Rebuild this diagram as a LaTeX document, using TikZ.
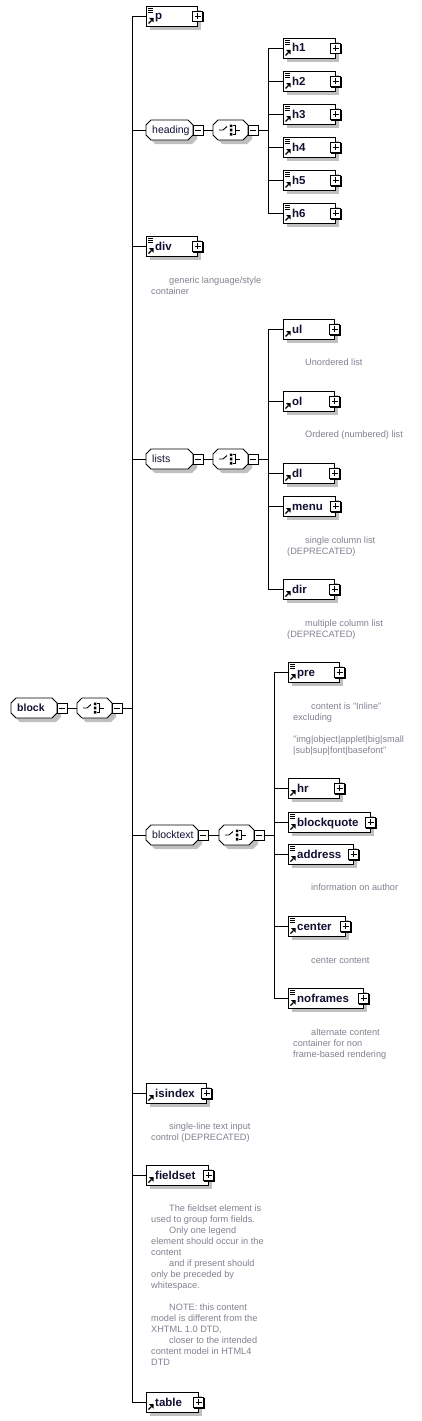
\documentclass[tikz,border=0pt]{standalone}
\usepackage{fontspec}
\setmainfont{Liberation Sans}
\definecolor{shadowc}{RGB}{192,192,192}
\definecolor{desccol}{RGB}{130,130,145}
\definecolor{labcol}{RGB}{16,16,48}
\tikzset{
  conn/.style={draw=black, line width=0.9pt},
  ebox/.style={draw=black, fill=white, line width=0.9pt, rectangle, inner sep=0pt, minimum height=20pt, anchor=west},
  elab/.style={font=\fontsize{11.5}{13}\selectfont\bfseries, text=labcol, inner sep=0pt, anchor=base west},
  glab/.style={font=\fontsize{10.5}{12}\selectfont, text=labcol, inner sep=0pt, anchor=base west},
  desc/.style={font=\fontsize{9.2}{11}\selectfont, text=desccol, inner sep=0pt, anchor=north west, align=left},
  pmbox/.style={draw=black, fill=white, line width=0.8pt, rectangle, inner sep=0pt, minimum width=10pt, minimum height=10pt},
}
\newcommand\xelem[6]{%
  \fill[shadowc] (#2+4,#3-6) rectangle (#2+#4+4,#3+14);
  \node[ebox, minimum width=#4pt] (#1) at (#2,#3) {};
  \ifnum#6=1
    \draw[line width=0.8pt] (#2+2,#3-8) -- (#2+7,#3-8) (#2+2,#3-6) -- (#2+7,#3-6) (#2+2,#3-4) -- (#2+7,#3-4);
  \fi
  \draw[line width=1.1pt] (#2+2.5,#3+7.5) -- (#2+5.5,#3+4.5);
  \fill (#2+7.5,#3+2) -- (#2+7.5,#3+6.5) -- (#2+3,#3+2) -- cycle;
  \node[elab] (#1-t) at (#2+9,#3+4) {#5};
  \fill (#2+#4-4,#3-4) rectangle (#2+#4+6.5,#3+6.5);
  \node[pmbox] (#1-x) at (#2+#4+0.5,#3) {};
  \draw[line width=0.9pt] (#2+#4-2.5,#3) -- (#2+#4+3.5,#3) (#2+#4+0.5,#3-3) -- (#2+#4+0.5,#3+3);
}
\newcommand\xgrp[5]{%
  \fill[shadowc] (#2+4,#3-1) -- (#2+9,#3-6) -- (#2+#4-1,#3-6) -- (#2+#4+4,#3-1) -- (#2+#4+4,#3+9) -- (#2+#4-1,#3+14) -- (#2+9,#3+14) -- (#2+4,#3+9) -- cycle;
  \draw[conn, fill=white] (#2,#3-5) -- (#2+5,#3-10) -- (#2+#4-5,#3-10) -- (#2+#4,#3-5) -- (#2+#4,#3+5) -- (#2+#4-5,#3+10) -- (#2+5,#3+10) -- (#2,#3+5) -- cycle;
  \node[inner sep=0pt, minimum width=#4pt, minimum height=20pt, anchor=west] (#1) at (#2,#3) {};
  \node[glab] (#1-t) at (#2+6,#3+3.5) {#5};
}
\newcommand\xcomp[3]{%
  \xgrp{#1}{#2}{#3}{35}{}
  \draw[line width=0.9pt] (#2+6,#3) -- (#2+10,#3) -- (#2+14,#3-3.5);
  \fill (#2+16.8,#3-5.5) rectangle ++(2.6,2.6) (#2+16.8,#3-1.3) rectangle ++(2.6,2.6) (#2+16.8,#3+2.9) rectangle ++(2.6,2.6);
  \draw[line width=0.9pt] (#2+20,#3-4.2) -- (#2+22.5,#3-4.2) -- (#2+22.5,#3+4.2) -- (#2+20,#3+4.2) (#2+22.5,#3) -- (#2+27,#3);
}
\newcommand\xminus[3]{%
  \fill (#2-4,#3-4) rectangle (#2+6,#3+6);
  \node[pmbox] (#1) at (#2,#3) {};
  \draw[line width=0.9pt] (#2-3,#3) -- (#2+3,#3);
}
\newcommand\xdesc[4]{%
  \node[desc] (#1) at (#2,#3-8) {\rule{0pt}{8pt}#4};
}
\newcommand\ind{\hspace*{18pt}}
\begin{document}
\begin{tikzpicture}[x=1pt,y=-1pt]
\useasboundingbox (0,0) rectangle (421,1421);
\fill[white] (0,0) rectangle (421,1421);

% root
\xgrp{block}{11}{708}{46}{\textbf{block}}
\xminus{block-m}{62}{708}
\xcomp{c0}{77}{708}
\xminus{c0-m}{117}{708}
\coordinate (T0) at (132,708);
\draw[conn] (block-m.east) -- (c0.west);
\draw[conn] (c0-m.east) -- (T0);

% children of root sequence
\xelem{p}{146}{16}{51}{p}{1}

\xgrp{heading}{146}{130}{47}{heading}
\xminus{heading-m}{198}{130}
\xcomp{c1}{213}{130}
\xminus{c1-m}{253}{130}
\coordinate (T1) at (268,130);
\draw[conn] (heading-m.east) -- (c1.west);
\draw[conn] (c1-m.east) -- (T1);
\xelem{h1}{283}{48}{52}{h1}{1}
\xelem{h2}{283}{81}{52}{h2}{1}
\xelem{h3}{283}{114}{52}{h3}{1}
\xelem{h4}{283}{147}{52}{h4}{1}
\xelem{h5}{283}{180}{52}{h5}{1}
\xelem{h6}{283}{213}{52}{h6}{1}
\draw[conn] (h1.west -| T1) -- (h6.west -| T1);
\foreach \n in {h1,h2,h3,h4,h5,h6} \draw[conn] (\n.west -| T1) -- (\n.west);

\xelem{div}{146}{246}{51}{div}{1}
\xdesc{d-div}{151}{283}{\ind generic language/style\\container}

\xgrp{lists}{146}{459}{47}{lists}
\xminus{lists-m}{198}{459}
\xcomp{c2}{213}{459}
\xminus{c2-m}{253}{459}
\coordinate (T2) at (268,459);
\draw[conn] (lists-m.east) -- (c2.west);
\draw[conn] (c2-m.east) -- (T2);
\xelem{ul}{283}{329}{51}{ul}{0}
\xdesc{d-ul}{287}{365}{\ind Unordered list}
\xelem{ol}{283}{401}{51}{ol}{0}
\xdesc{d-ol}{287}{437}{\ind Ordered (numbered) list}
\xelem{dl}{283}{473}{51}{dl}{0}
\xelem{menu}{283}{506}{52}{menu}{0}
\xdesc{d-menu}{287}{543}{\ind single column list\\(DEPRECATED)}
\xelem{dir}{283}{589}{51}{dir}{0}
\xdesc{d-dir}{287}{626}{\ind multiple column list\\(DEPRECATED)}
\draw[conn] (ul.west -| T2) -- (dir.west -| T2);
\foreach \n in {ul,ol,dl,menu,dir} \draw[conn] (\n.west -| T2) -- (\n.west);

\xgrp{blocktext}{146}{835}{52}{blocktext}
\xminus{blocktext-m}{203}{835}
\xcomp{c3}{219}{835}
\xminus{c3-m}{259}{835}
\coordinate (T3) at (274,835);
\draw[conn] (blocktext-m.east) -- (c3.west);
\draw[conn] (c3-m.east) -- (T3);
\xelem{pre}{288}{672}{51}{pre}{1}
\xdesc{d-pre}{293}{709}{\ind content is "Inline"\\excluding\\[11pt]"img|object|applet|big|small\\|sub|sup|font|basefont"}
\xelem{hr}{288}{788}{51}{hr}{0}
\xelem{blockquote}{288}{822}{82}{blockquote}{1}
\xelem{address}{288}{854}{65}{address}{1}
\xdesc{d-address}{293}{890}{\ind information on author}
\xelem{center}{288}{926}{57}{center}{1}
\xdesc{d-center}{293}{963}{\ind center content}
\xelem{noframes}{288}{998}{75}{noframes}{1}
\xdesc{d-noframes}{293}{1035}{\ind alternate content\\container for non\\frame-based rendering}
\draw[conn] (pre.west -| T3) -- (noframes.west -| T3);
\foreach \n in {pre,hr,blockquote,address,center,noframes} \draw[conn] (\n.west -| T3) -- (\n.west);

\xelem{isindex}{146}{1093}{60}{isindex}{0}
\xdesc{d-isindex}{151}{1129}{\ind single-line text input\\control (DEPRECATED)}
\xelem{fieldset}{146}{1175}{62}{fieldset}{0}
\xdesc{d-fieldset}{151}{1211}{\ind The fieldset element is\\used to group form fields.\\\ind Only one legend\\element should occur in the\\content\\\ind and if present should\\only be preceded by\\whitespace.\\[11pt]\ind NOTE: this content\\model is different from the\\XHTML 1.0 DTD,\\\ind closer to the intended\\content model in HTML4\\DTD}
\xelem{table}{146}{1402}{52}{table}{0}

\draw[conn] (p.west -| T0) -- (table.west -| T0);
\foreach \n in {p,heading,div,lists,blocktext,isindex,fieldset,table} \draw[conn] (\n.west -| T0) -- (\n.west);
\end{tikzpicture}
\end{document}
